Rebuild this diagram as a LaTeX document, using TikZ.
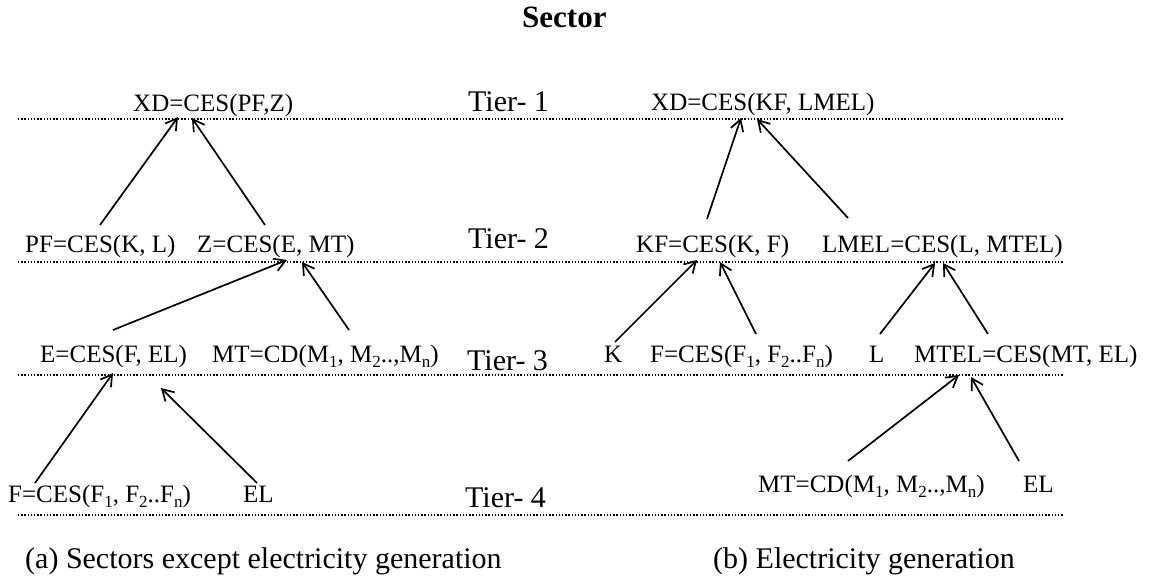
\documentclass[tikz,border=0pt]{standalone}
\usepackage{fontspec}
\setmainfont{Liberation Serif}
\usetikzlibrary{arrows.meta}
\newcommand{\sbx}[1]{\raisebox{-5.5pt}{\fontsize{17}{17}\selectfont #1}}
\begin{document}
\begin{tikzpicture}[x=1pt,y=-1pt,
  lbl/.style={inner sep=0pt,anchor=base west,font=\fontsize{25}{30}\selectfont},
  tier/.style={inner sep=0pt,anchor=base west,font=\fontsize{30}{36}\selectfont},
  capt/.style={inner sep=0pt,anchor=base west,font=\fontsize{30}{36}\selectfont},
  ttl/.style={inner sep=0pt,anchor=base west,font=\fontsize{31}{36}\selectfont\bfseries},
  arr/.style={line width=1.7pt,-{Straight Barb[length=11pt,width=13pt,line width=1.7pt]}},
  dots/.style={line width=1.3pt,dash pattern=on 1.3pt off 1.9pt}]
\useasboundingbox (0,0) rectangle (1162,588);
% title
\node[ttl] (title) at (522,28) {Sector};
% tier lines
\coordinate (l1a) at (18,119); \coordinate (l1b) at (1064,119);
\coordinate (l2a) at (18,262); \coordinate (l2b) at (1064,262);
\coordinate (l3a) at (18,375); \coordinate (l3b) at (1064,375);
\coordinate (l4a) at (18,515); \coordinate (l4b) at (1064,515);
\draw[dots] (l1a) -- (l1b);
\draw[dots] (l2a) -- (l2b);
\draw[dots] (l3a) -- (l3b);
\draw[dots] (l4a) -- (l4b);
% tier labels
\node[tier] (t1) at (468,112) {Tier- 1};
\node[tier] (t2) at (468,248) {Tier- 2};
\node[tier] (t3) at (467,370) {Tier- 3};
\node[tier] (t4) at (465,507) {Tier- 4};
% left tree
\node[lbl] (xdA) at (133,112) {XD=CES(PF,Z)};
\node[lbl] (pf) at (25,253) {PF=CES(K, L)};
\node[lbl] (z) at (197,253) {Z=CES(E, MT)};
\node[lbl] (e) at (40,362) {E=CES(F, EL)};
\node[lbl] (mtA) at (212,362) {MT=CD(M\sbx{1}, M\sbx{2}..,M\sbx{n})};
\node[lbl] (fA) at (8,502) {F=CES(F\sbx{1}, F\sbx{2}..F\sbx{n})};
\node[lbl] (elA) at (243,502) {EL};
% right tree
\node[lbl] (xdB) at (651,111) {XD=CES(KF, LMEL)};
\node[lbl] (kf) at (636,252) {KF=CES(K, F)};
\node[lbl] (lmel) at (822,252) {LMEL=CES(L, MTEL)};
\node[lbl] (k) at (604,362) {K};
\node[lbl] (fB) at (650,362) {F=CES(F\sbx{1}, F\sbx{2}..F\sbx{n})};
\node[lbl] (l) at (869,362) {L};
\node[lbl] (mtel) at (914,362) {MTEL=CES(MT, EL)};
\node[lbl] (mtB) at (758,492) {MT=CD(M\sbx{1}, M\sbx{2}..,M\sbx{n})};
\node[lbl] (elB) at (1023,492) {EL};
% captions
\node[capt] (capA) at (25,568) {(a) Sectors except electricity generation};
\node[capt] (capB) at (713,568) {(b) Electricity generation};
% left arrows
\draw[arr] ([xshift=75pt,yshift=28pt]pf.base west) -- ([xshift=45pt,yshift=-5pt]xdA.base west);
\draw[arr] ([xshift=68pt,yshift=28pt]z.base west) -- ([xshift=59pt,yshift=-6pt]xdA.base west);
\draw[arr] ([xshift=73pt,yshift=32pt]e.base west) -- ([xshift=90pt,yshift=-7pt]z.base west);
\draw[arr] ([xshift=137pt,yshift=32pt]mtA.base west) -- ([xshift=105pt,yshift=-9pt]z.base west);
\draw[arr] ([xshift=27pt,yshift=19pt]fA.base west) -- ([xshift=73pt,yshift=-11pt]e.base west);
\draw[arr] ([xshift=14pt,yshift=19pt]elA.base west) -- ([xshift=121pt,yshift=-26pt]e.base west);
% right arrows
\draw[arr] ([xshift=71pt,yshift=33pt]kf.base west) -- ([xshift=90pt,yshift=-7pt]xdB.base west);
\draw[arr] ([xshift=26pt,yshift=34pt]lmel.base west) -- ([xshift=106pt,yshift=-8pt]xdB.base west);
\draw[arr] ([xshift=11pt,yshift=20pt]k.base west) -- ([xshift=61pt,yshift=-8pt]kf.base west);
\draw[arr] ([xshift=106pt,yshift=28pt]fB.base west) -- ([xshift=84pt,yshift=-10pt]kf.base west);
\draw[arr] ([xshift=11pt,yshift=28pt]l.base west) -- ([xshift=113pt,yshift=-11pt]lmel.base west);
\draw[arr] ([xshift=74pt,yshift=28pt]mtel.base west) -- ([xshift=121pt,yshift=-11pt]lmel.base west);
\draw[arr] ([xshift=90pt,yshift=31pt]mtB.base west) -- ([xshift=45pt,yshift=-13pt]mtel.base west);
\draw[arr] ([xshift=-4pt,yshift=31pt]elB.base west) -- ([xshift=57pt,yshift=-15pt]mtel.base west);
\end{tikzpicture}
\end{document}
